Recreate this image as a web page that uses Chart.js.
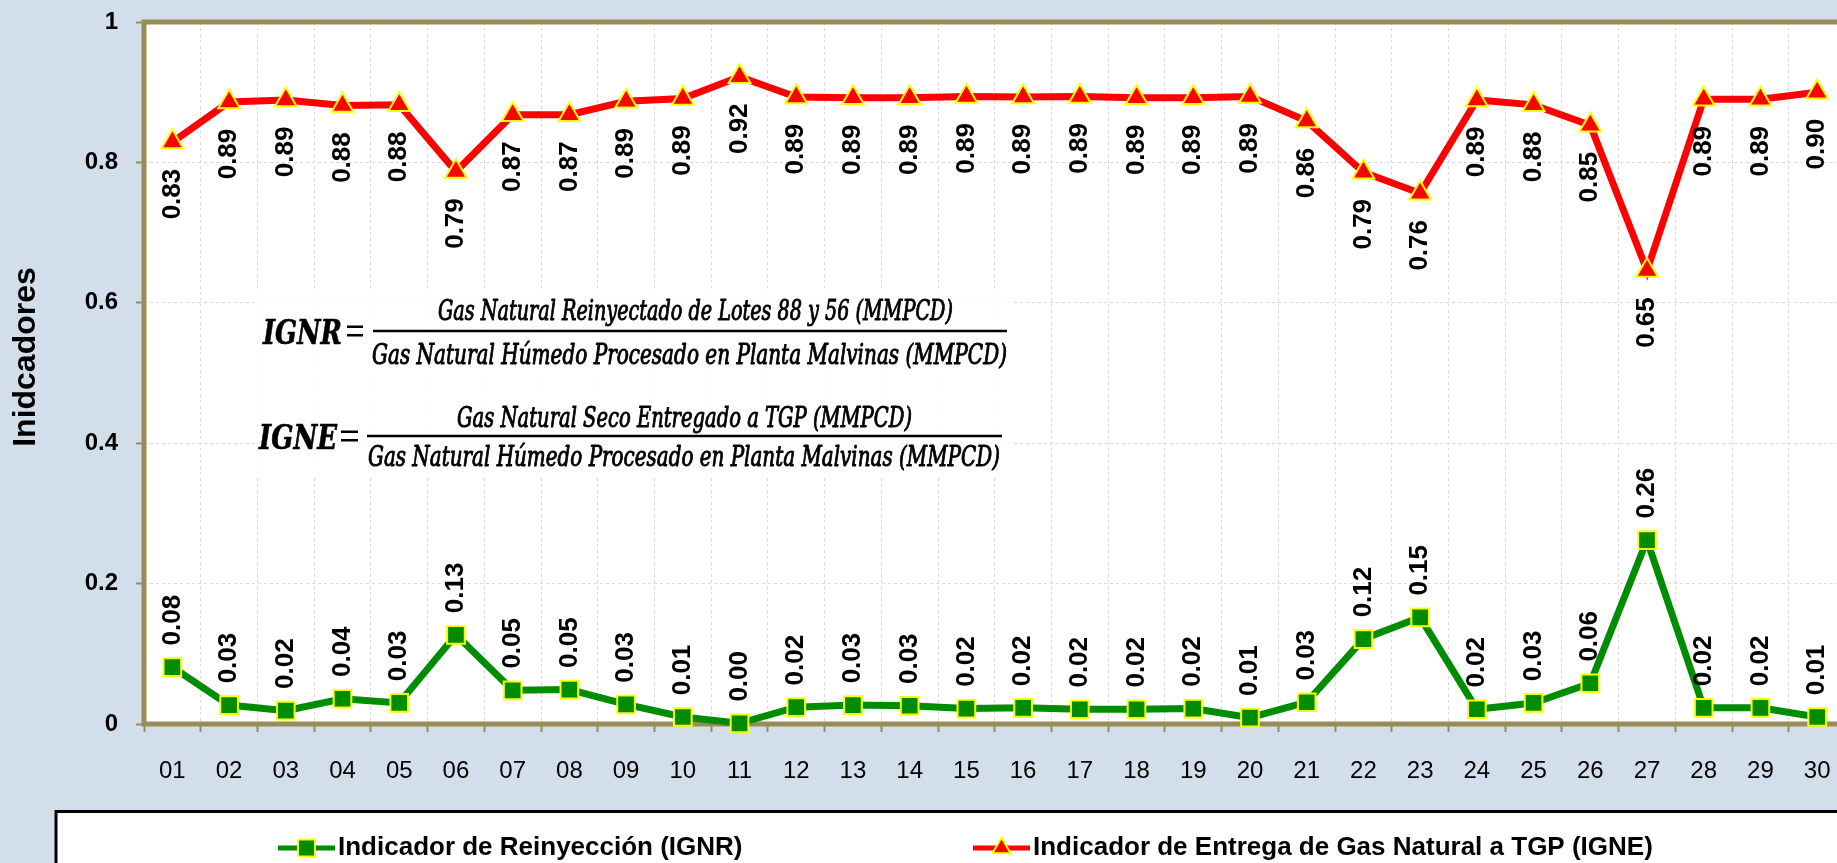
<!DOCTYPE html>
<html><head><meta charset="utf-8">
<script src="https://cdn.jsdelivr.net/npm/chart.js@4.4.1/dist/chart.umd.min.js"></script>
<style>
html,body{margin:0;padding:0;background:#D3DEEB;overflow:hidden;width:1837px;height:863px;}
canvas{display:block;}
</style></head><body>
<canvas id="c" width="1860" height="863"></canvas>
<script>
// ---- data ----
const days = ['01','02','03','04','05','06','07','08','09','10','11','12','13','14','15','16','17','18','19','20','21','22','23','24','25','26','27','28','29','30'];
const ignr = [0.081,0.027,0.019,0.036,0.030,0.127,0.048,0.049,0.028,0.010,0.001,0.024,0.027,0.026,0.022,0.023,0.021,0.021,0.022,0.009,0.031,0.121,0.152,0.021,0.030,0.058,0.262,0.023,0.023,0.010];
const igne = [0.829,0.886,0.889,0.881,0.882,0.787,0.868,0.868,0.887,0.891,0.922,0.893,0.892,0.892,0.894,0.893,0.894,0.892,0.892,0.894,0.859,0.786,0.756,0.889,0.882,0.853,0.646,0.890,0.890,0.900];
const seriesNames = ['Indicador de Reinyección (IGNR)', 'Indicador de Entrega de Gas Natural a TGP (IGNE)'];
const axisTitle = 'Inidcadores';
const formulaIGNR = ['IGNR', 'Gas Natural Reinyectado de Lotes 88 y 56 (MMPCD)', 'Gas Natural Húmedo Procesado en Planta Malvinas (MMPCD)'];
const formulaIGNE = ['IGNE', 'Gas Natural Seco Entregado a TGP (MMPCD)', 'Gas Natural Húmedo Procesado en Planta Malvinas (MMPCD)'];

// ---- styles ----
const OLIVE = '#988C5A';
const GREEN = '#008C00';
const RED = '#FF0000';
const YELLOW = '#FFFF00';
const SANS = '"Liberation Sans", Arial, sans-serif';
const SERIF = '"DejaVu Serif Condensed", "DejaVu Serif", "Liberation Serif", serif';

function fitText(ctx, txt, font, x0, x1, baseline, thick) {
  ctx.font = font;
  const w = ctx.measureText(txt).width;
  const sx = (x1 - x0) / w;
  ctx.save();
  ctx.translate(x0, baseline);
  ctx.scale(sx, 1);
  ctx.textAlign = 'left';
  ctx.textBaseline = 'alphabetic';
  ctx.fillText(txt, 0, 0);
  if (thick) {
    ctx.strokeStyle = ctx.fillStyle;
    ctx.lineWidth = thick;
    ctx.lineJoin = 'round';
    ctx.strokeText(txt, 0, 0);
  }
  ctx.restore();
}

function drawFormula(ctx, f, g) {
  ctx.fillStyle = '#000';
  fitText(ctx, f[0], 'italic bold 34px ' + SERIF, g.lx0, g.lx1, g.lb, 0.6);
  // equals sign
  ctx.fillRect(g.ex0, g.fy - 5.5, g.ex1 - g.ex0, 2.5);
  ctx.fillRect(g.ex0, g.fy + 3, g.ex1 - g.ex0, 2.5);
  // fraction bar
  ctx.fillRect(g.fx0, g.fy - 1.25, g.fx1 - g.fx0, 2.5);
  fitText(ctx, f[1], 'italic 27px ' + SERIF, g.nx0, g.nx1, g.nb, 0.9);
  fitText(ctx, f[2], 'italic 27px ' + SERIF, g.dx0, g.dx1, g.db, 0.9);
}

function marker(ctx, style, x, y, r, fill) {
  ctx.save();
  ctx.fillStyle = fill; ctx.strokeStyle = YELLOW; ctx.lineWidth = 2;
  if (Chart.helpers && Chart.helpers.drawPoint) {
    Chart.helpers.drawPoint(ctx, {pointStyle: style, radius: r, rotation: 0, borderWidth: 2}, x, y);
  } else {
    ctx.beginPath();
    if (style === 'rect') { const s = r * Math.SQRT1_2; ctx.rect(x - s, y - s, 2 * s, 2 * s); }
    else { for (let k = 0; k < 3; k++) { const a = k * 2 * Math.PI / 3; ctx[k ? 'lineTo' : 'moveTo'](x + Math.sin(a) * r, y - Math.cos(a) * r); } ctx.closePath(); }
    ctx.fill(); ctx.stroke();
  }
  ctx.restore();
}

const decor = {
  id: 'decor',
  beforeDraw(chart) {
    const {ctx, chartArea: a} = chart;
    ctx.save();
    ctx.fillStyle = '#FFFFFF';
    ctx.fillRect(a.left, a.top, a.right - a.left, a.bottom - a.top);
    ctx.restore();
  },
  beforeDatasetsDraw(chart) {
    const {ctx, chartArea: a} = chart;
    ctx.save();
    // formula image area
    ctx.fillStyle = 'rgba(255,255,255,0.82)';
    ctx.fillRect(257, 288, 756, 190);
    drawFormula(ctx, formulaIGNR, {lx0: 263, lx1: 342, lb: 344, ex0: 347, ex1: 363, fx0: 373, fx1: 1007, fy: 331, nx0: 438, nx1: 953, nb: 320, dx0: 372, dx1: 1007, db: 364});
    drawFormula(ctx, formulaIGNE, {lx0: 259, lx1: 337, lb: 449, ex0: 341, ex1: 358, fx0: 367, fx1: 1002, fy: 436, nx0: 457, nx1: 912, nb: 427, dx0: 368, dx1: 1000, db: 466});
    // frame
    ctx.strokeStyle = OLIVE;
    ctx.lineWidth = 5;
    ctx.strokeRect(a.left, a.top, a.right - a.left, a.bottom - a.top);
    ctx.restore();
  },
  afterDatasetsDraw(chart) {
    const ctx = chart.ctx;
    ctx.save();
    ctx.fillStyle = '#000';
    ctx.font = 'bold 26px ' + SANS;
    ctx.textAlign = 'center';
    ctx.textBaseline = 'middle';
    chart.data.datasets.forEach((ds, i) => {
      const meta = chart.getDatasetMeta(i);
      const off = ds.labelBelow ? 52 : -47;
      meta.data.forEach((pt, j) => {
        ctx.save();
        ctx.translate(pt.x, pt.y + off);
        ctx.rotate(-Math.PI / 2);
        ctx.fillText(ds.data[j].toFixed(2), 0, 0);
        ctx.restore();
      });
    });
    ctx.restore();
  },
  afterDraw(chart) {
    const ctx = chart.ctx;
    ctx.save();
    // y axis title
    ctx.fillStyle = '#000';
    ctx.font = 'bold 32px ' + SANS;
    ctx.textAlign = 'center';
    ctx.textBaseline = 'middle';
    ctx.translate(26, 357);
    ctx.rotate(-Math.PI / 2);
    ctx.fillText(axisTitle, 0, 0);
    ctx.restore();

    // legend box
    ctx.save();
    ctx.fillStyle = '#FFFFFF';
    ctx.fillRect(56, 811, 1900, 100);
    ctx.strokeStyle = '#000';
    ctx.lineWidth = 3;
    ctx.strokeRect(56, 811.5, 1900, 100);
    const items = [{x: 278, ds: chart.data.datasets[0]}, {x: 973, ds: chart.data.datasets[1]}];
    const ly = 848;
    items.forEach(it => {
      ctx.strokeStyle = it.ds.borderColor;
      ctx.lineWidth = 5;
      ctx.beginPath(); ctx.moveTo(it.x, ly); ctx.lineTo(it.x + 57, ly); ctx.stroke();
      marker(ctx, it.ds.pointStyle, it.x + 28.5, ly, it.ds.pointStyle === 'rect' ? 12 : 10.5, it.ds.pointBackgroundColor);
      ctx.fillStyle = '#000';
      ctx.font = 'bold 26px ' + SANS;
      ctx.textAlign = 'left';
      ctx.textBaseline = 'middle';
      ctx.fillText(it.ds.label, it.x + 60, ly);
    });
    ctx.restore();
  }
};

new Chart(document.getElementById('c'), {
  type: 'line',
  data: {
    labels: days,
    datasets: [
      {label: seriesNames[0], data: ignr, borderColor: GREEN, backgroundColor: GREEN, borderWidth: 7,
       pointStyle: 'rect', pointRadius: 12.5, pointBackgroundColor: GREEN, pointBorderColor: YELLOW, pointBorderWidth: 2,
       clip: false, tension: 0, labelBelow: false},
      {label: seriesNames[1], data: igne, borderColor: RED, backgroundColor: RED, borderWidth: 7,
       pointStyle: 'triangle', pointRadius: 12.5, pointBackgroundColor: RED, pointBorderColor: YELLOW, pointBorderWidth: 2,
       clip: false, tension: 0, labelBelow: true}
    ]
  },
  options: {
    responsive: false,
    animation: false,
    devicePixelRatio: 1,
    layout: {padding: {top: 22, right: 10, left: 0, bottom: 0}},
    plugins: {legend: {display: false}, tooltip: {enabled: false}},
    scales: {
      x: {
        offset: true,
        grid: {offset: true, color: '#DADADA', lineWidth: 1, tickColor: OLIVE, tickWidth: 2, tickLength: 8, tickBorderDash: []},
        border: {display: false, dash: [3, 3]},
        ticks: {color: '#000', font: {family: SANS, size: 24}, padding: 25, autoSkip: false, maxRotation: 0},
        afterFit(s) { s.height = 139; s.paddingLeft = 0; s.paddingRight = 0; }
      },
      y: {
        min: 0, max: 1,
        grid: {color: '#DADADA', lineWidth: 1, tickColor: OLIVE, tickWidth: 2, tickLength: 8, tickBorderDash: []},
        border: {display: false, dash: [3, 3]},
        ticks: {stepSize: 0.2, color: '#000', font: {family: SANS, size: 24, weight: 'bold'}, padding: 18,
                callback: v => String(Number(v.toFixed(1)))},
        afterFit(s) { s.width = 144; s.paddingTop = 0; s.paddingBottom = 0; }
      }
    }
  },
  plugins: [decor]
});
</script>
</body></html>
